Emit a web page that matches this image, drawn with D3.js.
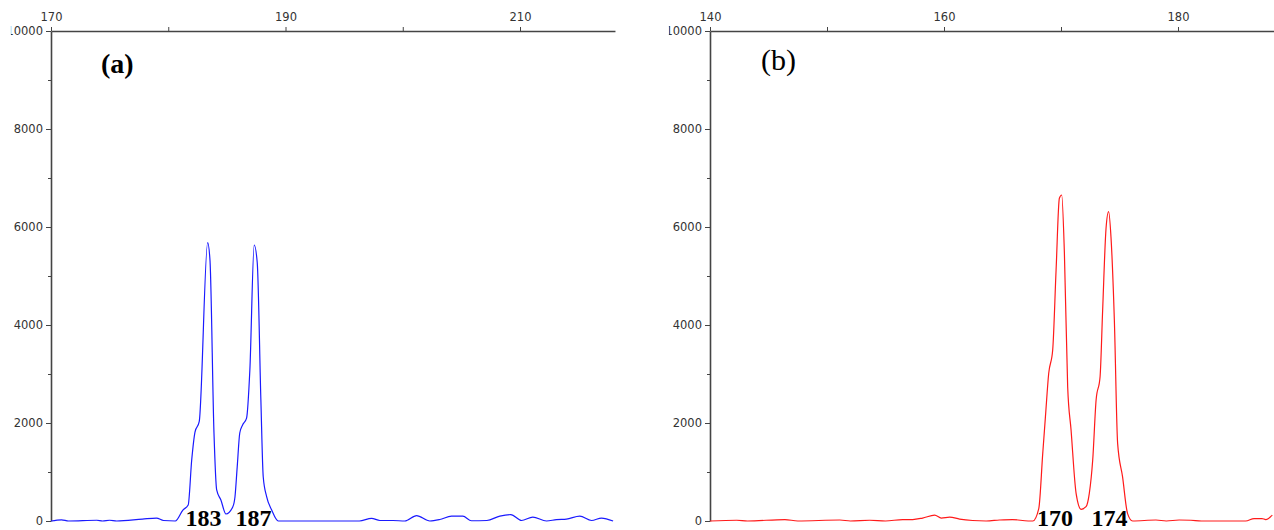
<!DOCTYPE html>
<html>
<head>
<meta charset="utf-8">
<script src="https://cdn.jsdelivr.net/npm/d3@7"></script>
<style>
  body { margin: 0; background: #fff; }
  .tick text { font-family: "DejaVu Sans", sans-serif; font-size: 11.5px; fill: #333; }
  .axis path, .axis line { stroke: #444; }
  .peak { font-family: "Liberation Serif", serif; font-weight: bold; font-size: 24px; fill: #000; }
</style>
</head>
<body>
<svg id="chart" width="1274" height="530"></svg>
<script>
// panel (a) - blue trace, size in bp vs intensity
var sizeA = [170, 170.9, 171.5, 173.9, 174.4, 175.0, 175.6, 177.8, 179.0, 179.6, 180.6, 181.25, 181.7, 182.0, 182.28, 182.64,
  183.36, 183.56, 183.9, 184.13, 184.49, 184.92, 185.5, 185.69, 185.88, 186.1, 186.34, 186.68, 186.96, 187.33, 187.59, 187.9, 188.1, 188.39, 188.82, 189.38,
  196.3, 197.34, 198.05, 199.16, 200.18, 201.18, 202.31, 203.16, 204.16, 205.12, 205.86, 207.17, 208.28, 209.22, 210.13, 211.09, 212.26,
  213.11, 213.96, 215.1, 216.1, 216.95, 217.94];
var valA = [0, 25, 0, 15, 0, 15, 0, 40, 60, 10, 0, 224, 326, 1245, 1816, 2026,
  5680, 5320, 1796, 633, 430, 143, 286, 490, 1100, 1796, 1960, 2100, 3080, 5633, 5270, 2469, 904, 496, 224, 0,
  0, 55, 10, 10, 0, 110, 0, 30, 100, 100, 5, 10, 100, 130, 10, 80, 0,
  30, 40, 100, 10, 60, 0];

// panel (b) - red trace
var sizeB = [140, 142.28, 143.2, 146.4, 147.5, 151.09, 152.0, 153.65, 155.0, 156.47, 157.32, 158.17, 159.2, 159.77, 160.48, 161.33, 162.44, 163.6, 164.74, 165.85, 167.2, 167.59,
  168.1, 168.44, 168.67, 168.95, 169.29, 169.58, 169.86, 170.06, 170.29, 170.57, 170.86, 171.29, 171.72, 172.14, 172.42, 172.71, 173.0, 173.34, 173.56, 173.85, 174.07, 174.27, 174.56, 174.84, 175.26, 175.69, 176.12,
  178.11, 179.0, 180.1, 181.1, 182.0, 185.79, 186.5, 187.18, 187.5, 188.06];
var valB = [0, 15, 0, 30, 0, 20, 0, 15, 0, 30, 30, 60, 120, 60, 80, 40, 10, 0, 20, 30, 0, 0,
  253, 1380, 2130, 3014, 3490, 5122, 6586, 6653, 5469, 2741, 1857, 565, 239, 292, 565, 1245, 2469, 2945, 4306, 5973, 6313, 5803, 4102, 1585, 904, 150, 0,
  20, 0, 20, 15, 0, 0, 50, 50, 30, 120];

var peakLabelsA = ["183", "187"], peakPosA = [183.0, 187.27];
var peakLabelsB = ["170", "174"], peakPosB = [169.49, 174.15];
var yMajor = [0, 2000, 4000, 6000, 8000, 10000];

var svg = d3.select("#chart");
var y = d3.scaleLinear().domain([0, 10000]).range([521, 31]);

function drawPanel(opt) {
  var g = svg.append("g");
  var x = d3.scaleLinear().domain(opt.domain).range(opt.range);
  var data = opt.sizes.map(function (s, i) { return { s: s, v: opt.vals[i] }; });

  // the top label gets cut at the panel's left edge, like the original
  var clipId = "clip" + opt.id;
  svg.append("clipPath").attr("id", clipId)
    .append("rect").attr("x", opt.clipX - opt.range[0]).attr("y", -600).attr("width", 1274).attr("height", 1200);

  // y axis, minor ticks every 1000
  var yAxisMinor = g.append("g").attr("class", "axis")
    .attr("transform", "translate(" + opt.range[0] + ",0)")
    .call(d3.axisLeft(y).tickValues(d3.range(1000, 10000, 2000)).tickSize(3).tickFormat(""));
  yAxisMinor.select(".domain").remove();
  var yAxis = g.append("g").attr("class", "axis")
    .attr("transform", "translate(" + opt.range[0] + ",0)")
    .call(d3.axisLeft(y).tickValues(yMajor).tickSize(5).tickSizeOuter(0).tickPadding(3).tickFormat(d3.format("d")));
  yAxis.select(".domain").attr("stroke-width", 1.6);
  yAxis.selectAll(".tick text").attr("clip-path", "url(#" + clipId + ")");

  // top axis
  var xt = d3.range(opt.domain[0], opt.domain[1], 10);
  var xAxis = g.append("g").attr("class", "axis")
    .attr("transform", "translate(0,31)")
    .call(d3.axisTop(x).tickValues(xt).tickSize(4).tickSizeOuter(0).tickPadding(6)
      .tickFormat(function (d) { return (d - opt.domain[0]) % 20 === 0 ? d : ""; }));
  xAxis.select(".domain").attr("stroke-width", 1.6);

  var line = d3.line().x(function (d) { return x(d.s); }).y(function (d) { return y(d.v); })
    .curve(d3.curveMonotoneX);
  g.append("path").datum(data)
    .attr("fill", "none").attr("stroke", opt.color).attr("stroke-width", 1.2)
    .attr("d", line);

  g.append("text").attr("x", opt.tagX).attr("y", opt.tagY)
    .attr("font-family", "Liberation Serif, serif")
    .attr("font-weight", opt.tagBold ? "bold" : "normal")
    .attr("font-size", opt.tagSize + "px")
    .text(opt.tag);

  g.selectAll(".peak").data(opt.peakLabels).enter().append("text")
    .attr("class", "peak")
    .attr("x", function (d, i) { return x(opt.peakPos[i]); })
    .attr("y", 526)
    .attr("text-anchor", "middle")
    .text(function (d) { return d; });
}

drawPanel({ id: "a", domain: [170, 218.1], range: [51, 51 + 48.1 * 11.725], sizes: sizeA, vals: valA,
  color: "#1a1aff", clipX: 10.9, tag: "(a)", tagX: 101, tagY: 73, tagBold: true, tagSize: 28,
  peakLabels: peakLabelsA, peakPos: peakPosA });
drawPanel({ id: "b", domain: [140, 188.3], range: [710, 710 + 48.3 * 11.7], sizes: sizeB, vals: valB,
  color: "#ff1a1a", clipX: 668.9, tag: "(b)", tagX: 761, tagY: 70, tagBold: false, tagSize: 30,
  peakLabels: peakLabelsB, peakPos: peakPosB });
</script>
</body>
</html>
